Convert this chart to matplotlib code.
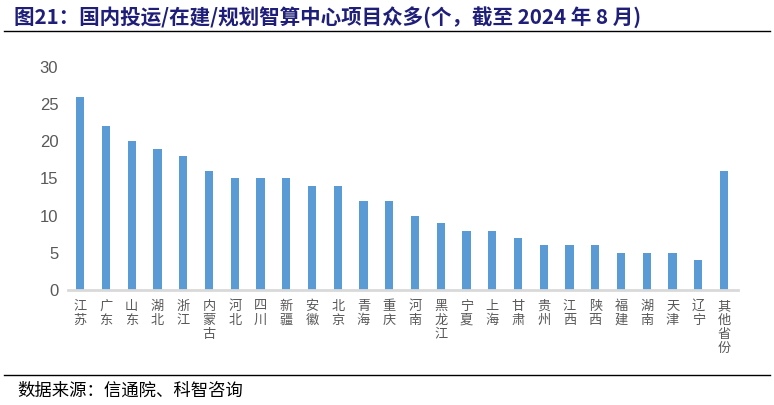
import numpy as np
import matplotlib
matplotlib.use("Agg")
from matplotlib import pyplot as plt

plt.rcParams["font.family"] = ["Noto Sans CJK SC", "DejaVu Sans"]

provinces = ["江苏", "广东", "山东", "湖北", "浙江", "内蒙古", "河北", "四川", "新疆",
             "安徽", "北京", "青海", "重庆", "河南", "黑龙江", "宁夏", "上海", "甘肃",
             "贵州", "江西", "陕西", "福建", "湖南", "天津", "辽宁", "其他省份"]
counts = [26, 22, 20, 19, 18, 16, 15, 15, 15, 14, 14, 12, 12, 10, 9, 8, 8, 7,
          6, 6, 6, 5, 5, 5, 4, 16]
yticks = [0, 5, 10, 15, 20, 25, 30]

title = "图21：国内投运/在建/规划智算中心项目众多(个，截至 2024 年 8 月)"
source = "数据来源：信通院、科智咨询"

fig = plt.figure(figsize=(7.74, 4.05), dpi=100)
ax = fig.add_axes([0.0879, 0.284, 0.8656, 0.5506])

x = np.arange(len(provinces))
ax.bar(x, counts, width=0.32, color="#5B9BD5", zorder=2)

ax.set_xlim(-0.47, len(provinces) - 0.46)
ax.set_ylim(0, 30)
ax.set_yticks(yticks)
ax.set_yticklabels([str(v) for v in yticks], fontsize=12, color="#595959",
                   family=["Liberation Sans", "DejaVu Sans"])
ax.set_xticks(x)
# vertical labels: one character per line
ax.set_xticklabels(["\n".join(p) for p in provinces], fontsize=9.5, color="#595959",
                   va="top", linespacing=1.1)
ax.tick_params(axis="both", length=0)
ax.tick_params(axis="x", pad=7)
ax.tick_params(axis="y", pad=7)

for s in ["top", "right", "left"]:
    ax.spines[s].set_visible(False)
ax.spines["bottom"].set_color("#D9D9D9")
ax.spines["bottom"].set_linewidth(2)

# title and rules
fig.text(14 / 774, 1 - 17 / 405, title, fontsize=14.8, fontweight="bold",
         color="#1F1F7A", va="center", ha="left")
fig.add_artist(plt.Line2D([4 / 774, 770 / 774], [1 - 31 / 405, 1 - 31 / 405],
                          color="black", linewidth=1))
fig.add_artist(plt.Line2D([4 / 774, 770 / 774], [1 - 375 / 405, 1 - 375 / 405],
                          color="black", linewidth=1))
fig.text(17 / 774, 1 - 391 / 405, source, fontsize=12.5, color="black",
         va="center", ha="left")

plt.savefig("out.png", dpi=100)
